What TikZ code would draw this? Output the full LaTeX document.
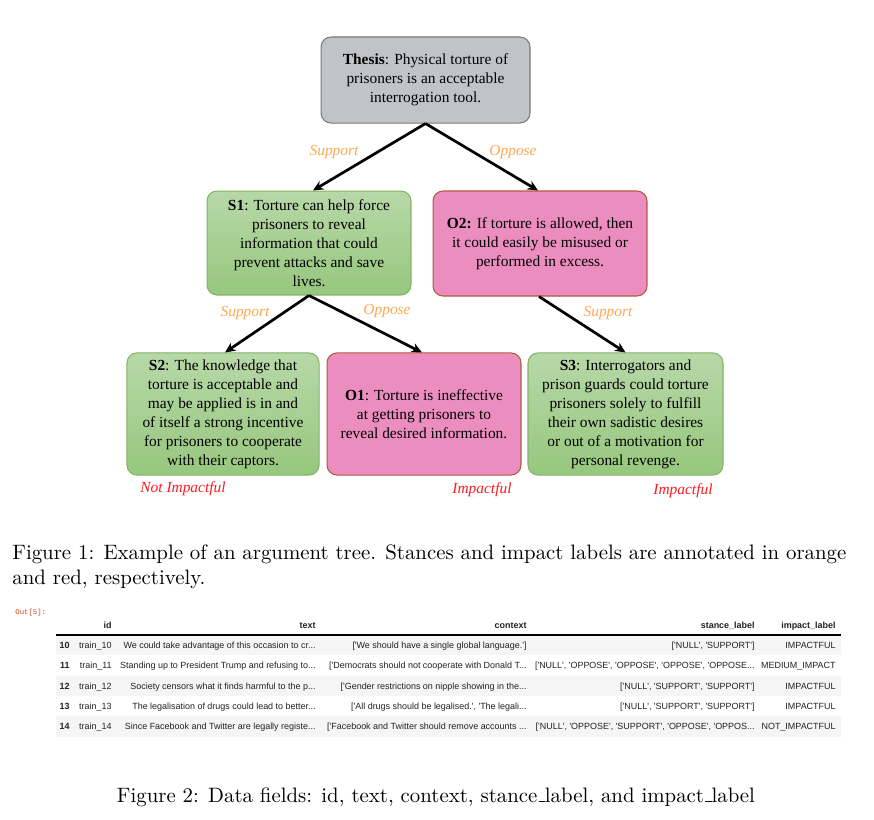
\documentclass[tikz,border=0pt]{standalone}
\usepackage{fontspec}
\newfontfamily\treefont{Liberation Serif}
\newfontfamily\tabfont{Liberation Sans}[Ligatures=TeXOff]
\newfontfamily\outfont{Liberation Mono}[Ligatures=TeXOff]
\usetikzlibrary{arrows.meta,calc}
\definecolor{thesisfill}{HTML}{C1C4C6}
\definecolor{thesisdraw}{HTML}{7A7A7A}
\definecolor{gtop}{HTML}{B7D8A8}
\definecolor{gbot}{HTML}{97C77E}
\definecolor{gdraw}{HTML}{82B366}
\definecolor{pfill}{HTML}{EC8DBF}
\definecolor{pdraw}{HTML}{B4583C}
\definecolor{stancecol}{HTML}{FFA852}
\definecolor{impactcol}{HTML}{FF1A22}
\definecolor{rowgrey}{HTML}{F5F5F5}
\definecolor{outred}{HTML}{D84315}
\definecolor{tabtext}{HTML}{222222}
\newcommand{\capusc}{\leavevmode\kern.06em\vbox{\hrule width.3em}}
\tikzset{
  argbox/.style={rounded corners=4.8pt, align=center, inner sep=0pt, line width=0.5pt,
    font=\treefont\fontsize{7.4}{9.1}\selectfont},
  thesisbox/.style={argbox, fill=thesisfill, draw=thesisdraw},
  supbox/.style={argbox, top color=gtop, bottom color=gbot, draw=gdraw},
  oppbox/.style={argbox, fill=pfill, draw=pdraw},
  arr/.style={-{Stealth[length=5pt,width=4.6pt]}, line width=1.3pt, black},
  stance/.style={font=\treefont\itshape\fontsize{7.4}{9}\selectfont, text=stancecol, inner sep=0pt},
  impact/.style={font=\treefont\itshape\fontsize{7.4}{9}\selectfont, text=impactcol, inner sep=0pt},
  cell/.style={anchor=base east, inner sep=0pt, text=tabtext, font=\tabfont\fontsize{4.3}{5}\selectfont},
  hcell/.style={cell, font=\tabfont\bfseries\fontsize{4.3}{5}\selectfont},
  capt/.style={inner sep=0pt, font=\fontsize{10}{12}\selectfont}
}
\newcommand{\tabrow}[8]{%
  \node[hcell] (idx#2) at (70,#1+3) {#2};
  \node[cell] (id#2) at (112,#1+3) {#3};
  \node[cell] (tx#2) at (316,#1+3) {#4};
  \node[cell] (cx#2) at (527,#1+3) {#5};
  \node[cell] (st#2) at (755,#1+3) {#6};
  \node[cell] (im#2) at (836,#1+3) {#7};
}
\begin{document}
\begin{tikzpicture}[x=0.48pt,y=-0.48pt]
\path[use as bounding box, fill=white] (0,0) rectangle (874,819);

% ---------- argument tree ----------
\node[thesisbox, minimum width=100.3pt, minimum height=41.3pt] (thesis) at (425.5,80)
  {\textbf{Thesis}: Physical torture of\\ prisoners is an acceptable\\ interrogation tool.};
\node[supbox, minimum width=97.9pt, minimum height=49.9pt] (s1) at (309,243)
  {\textbf{S1}: Torture can help force\\ prisoners to reveal\\ information that could\\ prevent attacks and save\\ lives.};
\node[oppbox, minimum width=102.7pt, minimum height=50.4pt] (o2) at (540,243.5)
  {\textbf{O2:} If torture is allowed, then\\ it could easily be misused or\\ performed in excess.};
\node[supbox, minimum width=92.2pt, minimum height=58.6pt] (s2) at (223,414)
  {\textbf{S2}: The knowledge that\\ torture is acceptable and\\ may be applied is in and\\ of itself a strong incentive\\ for prisoners to cooperate\\ with their captors.};
\node[oppbox, minimum width=93.1pt, minimum height=58.6pt] (o1) at (424,414)
  {\textbf{O1}: Torture is ineffective\\ at getting prisoners to\\ reveal desired information.};
\node[supbox, minimum width=93.6pt, minimum height=58.6pt] (s3) at (625.5,414)
  {\textbf{S3}: Interrogators and\\ prison guards could torture\\ prisoners solely to fulfill\\ their own sadistic desires\\ or out of a motivation for\\ personal revenge.};

\draw[arr] (thesis.south) -- ($(s1.north)+(4,0)$);
\draw[arr] (thesis.south) -- ($(o2.north)+(-2,0)$);
\draw[arr] (s1.south) -- ($(s2.north)+(2,0)$);
\draw[arr] (s1.south) -- ($(o1.north)+(-2,0)$);
\draw[arr] ($(o2.south)+(-1,0)$) -- (s3.north);

\node[stance] (l1) at (334,152) {Support};
\node[stance] (l2) at (513,152) {Oppose};
\node[stance] (l3) at (245,313) {Support};
\node[stance] (l4) at (387,311) {Oppose};
\node[stance] (l5) at (608,313) {Support};
\node[impact] (m1) at (183,489) {Not Impactful};
\node[impact] (m2) at (482,490) {Impactful};
\node[impact] (m3) at (683,491) {Impactful};

% ---------- caption 1 ----------
\node[capt, anchor=base west] (cap1a) at (12,559)
  {\makebox[400.3pt][s]{Figure 1: Example of an argument tree. Stances and impact labels are annotated in orange}};
\node[capt, anchor=base west] (cap1b) at (12,584) {and red, respectively.};

% ---------- table ----------
\node[anchor=base west, inner sep=0pt, text=outred, font=\outfont\fontsize{3.5}{4}\selectfont] (out) at (15,614) {Out[5]:};
\fill[rowgrey] (56,635) rectangle (841,655.3);
\fill[rowgrey] (56,675.8) rectangle (841,696.1);
\fill[rowgrey] (56,716.4) rectangle (841,736.7);
\draw[line width=0.5pt, black] (56,635) -- (841,635);
\node[hcell] (hid) at (112,628) {id};
\node[hcell] (htx) at (316,628) {text};
\node[hcell] (hcx) at (527,628) {context};
\node[hcell] (hst) at (755,628) {stance\_label};
\node[hcell] (him) at (836,628) {impact\_label};
\tabrow{645}{10}{train\_10}{We could take advantage of this occasion to cr...}{['We should have a single global language.']}{['NULL', 'SUPPORT']}{IMPACTFUL}{}
\tabrow{665.5}{11}{train\_11}{Standing up to President Trump and refusing to...}{['Democrats should not cooperate with Donald T...}{['NULL', 'OPPOSE', 'OPPOSE', 'OPPOSE', 'OPPOSE...}{MEDIUM\_IMPACT}{}
\tabrow{686}{12}{train\_12}{Society censors what it finds harmful to the p...}{['Gender restrictions on nipple showing in the...}{['NULL', 'SUPPORT', 'SUPPORT']}{IMPACTFUL}{}
\tabrow{706}{13}{train\_13}{The legalisation of drugs could lead to better...}{['All drugs should be legalised.', 'The legali...}{['NULL', 'SUPPORT', 'SUPPORT']}{IMPACTFUL}{}
\tabrow{726.5}{14}{train\_14}{Since Facebook and Twitter are legally registe...}{['Facebook and Twitter should remove accounts ...}{['NULL', 'OPPOSE', 'SUPPORT', 'OPPOSE', 'OPPOS...}{NOT\_IMPACTFUL}{}

% ---------- caption 2 ----------
\node[capt, anchor=base] (cap2) at (436,802) {Figure 2: Data fields: id, text, context, stance\capusc label, and impact\capusc label};
\end{tikzpicture}
\end{document}
